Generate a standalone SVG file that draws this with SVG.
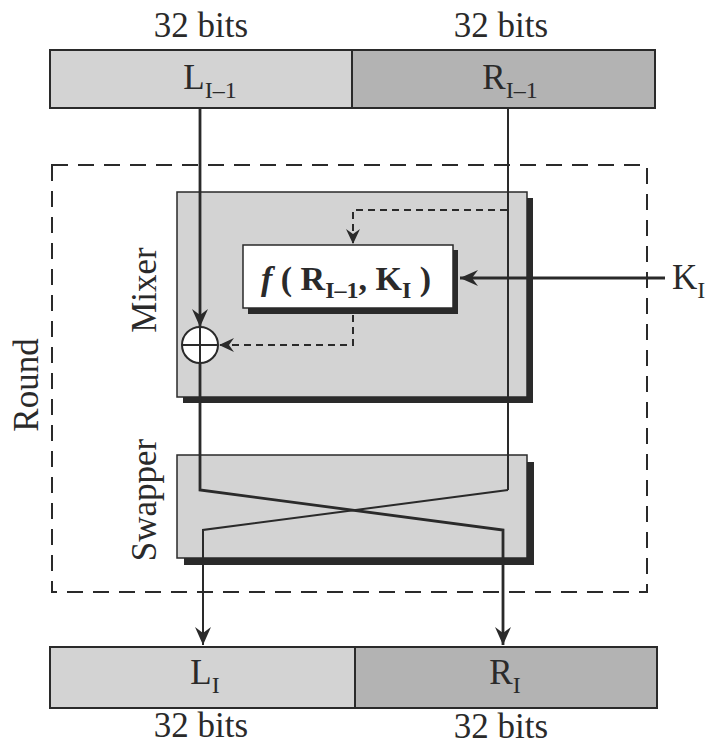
<svg xmlns="http://www.w3.org/2000/svg" width="707" height="745" viewBox="0 0 707 745">
<style>
text{font-family:"Liberation Serif","Times New Roman",serif;fill:#2a2a2a}
.lbl{font-size:35px}
.sub{font-size:24px}
.light{fill:#d3d3d3;stroke:#2a2a2a;stroke-width:2}
.dark{fill:#b3b3b3;stroke:#2a2a2a;stroke-width:2}
.box{fill:#d3d3d3;stroke:#2a2a2a;stroke-width:1.5}
.shadow{fill:#2a2a2a}
.ln{fill:none;stroke:#2a2a2a;stroke-width:2}
.thick{stroke-width:2.8}
.dash{fill:none;stroke:#2a2a2a;stroke-width:2;stroke-dasharray:7 5}
</style>
<defs>
<marker id="ah" markerUnits="userSpaceOnUse" markerWidth="20" markerHeight="18" refX="18" refY="9" orient="auto">
<path d="M0,1 L18,9 L0,17 L6,9 z" fill="#2a2a2a"/>
</marker>
<marker id="ahs" markerUnits="userSpaceOnUse" markerWidth="16" markerHeight="16" refX="15" refY="8" orient="auto">
<path d="M0,1 L15,8 L0,15 L5,8 z" fill="#2a2a2a"/>
</marker>
</defs>

<g id="top-bar">
<text class="lbl" x="201" y="37" text-anchor="middle">32 bits</text>
<text class="lbl" x="501" y="37" text-anchor="middle">32 bits</text>
<rect class="light" x="50" y="50" width="302" height="58"/>
<rect class="dark" x="352" y="50" width="303" height="58"/>
<text class="lbl" x="210" y="89" text-anchor="middle">L<tspan class="sub" dy="9">I–1</tspan></text>
<text class="lbl" x="510" y="89" text-anchor="middle">R<tspan class="sub" dy="9">I–1</tspan></text>
</g>

<g id="round">
<rect x="52" y="165" width="595" height="427" fill="none" stroke="#2a2a2a" stroke-width="2" stroke-dasharray="16 10"/>
<text class="lbl" transform="translate(38,385) rotate(-90)" text-anchor="middle">Round</text>
</g>

<g id="mixer">
<rect class="shadow" x="183" y="198" width="350" height="205"/>
<rect class="box" x="177" y="192" width="350" height="205"/>
<text class="lbl" transform="translate(156,290) rotate(-90)" text-anchor="middle">Mixer</text>
</g>

<g id="swapper">
<rect class="shadow" x="184" y="462" width="350" height="103"/>
<rect class="box" x="177" y="455" width="350" height="103"/>
<text class="lbl" transform="translate(156,500) rotate(-90)" text-anchor="middle">Swapper</text>
</g>

<g id="f-box">
<rect class="shadow" x="248" y="250" width="210" height="64"/>
<rect x="243" y="245" width="210" height="63" fill="#fff" stroke="#2a2a2a" stroke-width="1.5"/>
<text x="346" y="290" text-anchor="middle" font-size="34" font-weight="bold"><tspan font-style="italic">f</tspan> ( R<tspan font-size="24" dy="8">I–1</tspan><tspan dy="-8">, K</tspan><tspan font-size="24" dy="8">I</tspan><tspan dy="-8"> )</tspan></text>
</g>

<g id="k-label">
<text class="lbl" x="672" y="289">K<tspan class="sub" dy="9">I</tspan></text>
</g>

<g id="connectors">
<line class="ln thick" x1="200" y1="108" x2="200" y2="327" marker-end="url(#ah)"/>
<line class="ln" x1="508" y1="108" x2="508" y2="490"/>
<path class="ln thick" d="M200,363 V490 L503,530 V645" marker-end="url(#ah)"/>
<path class="ln" d="M508,490 L203,530 V645" marker-end="url(#ah)"/>
<line class="ln thick" x1="665" y1="278" x2="460" y2="278" marker-end="url(#ah)"/>
<path class="dash" d="M507,210 H353 V244" marker-end="url(#ahs)"/>
<path class="dash" d="M353,315 V345 H219" marker-end="url(#ahs)"/>
</g>

<g id="xor">
<circle cx="200" cy="345" r="18" fill="#fff" stroke="#2a2a2a" stroke-width="2"/>
<path d="M182,345 H218 M200,327 V363" stroke="#2a2a2a" stroke-width="2"/>
</g>

<g id="bottom-bar">
<rect class="light" x="50" y="647" width="305" height="61"/>
<rect class="dark" x="355" y="647" width="302" height="61"/>
<text class="lbl" x="205" y="684" text-anchor="middle">L<tspan class="sub" dy="9">I</tspan></text>
<text class="lbl" x="505" y="684" text-anchor="middle">R<tspan class="sub" dy="9">I</tspan></text>
<text class="lbl" x="201" y="737" text-anchor="middle">32 bits</text>
<text class="lbl" x="501" y="738" text-anchor="middle">32 bits</text>
</g>
</svg>
